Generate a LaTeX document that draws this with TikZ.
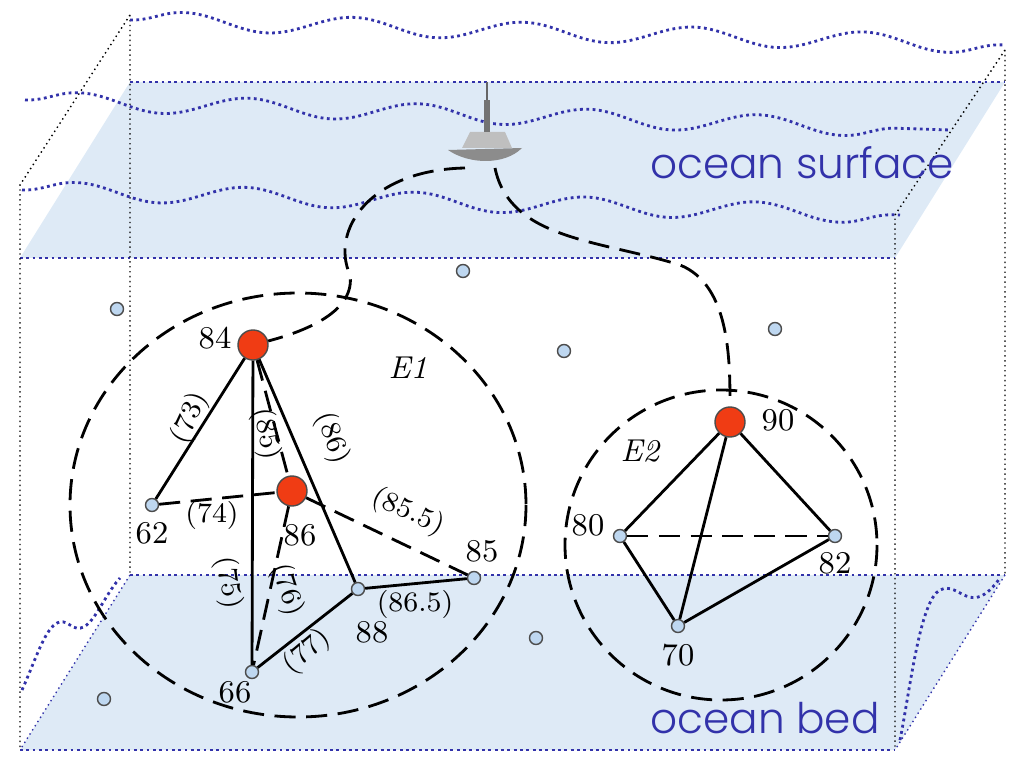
\documentclass[tikz,border=0pt]{standalone}
\usepackage{fontspec}
\newfontfamily\sansf{Poppins Light}
\usetikzlibrary{decorations.pathmorphing}
\definecolor{sea}{RGB}{222,234,246}
\definecolor{wv}{RGB}{50,50,170}
\definecolor{redn}{RGB}{240,60,20}
\definecolor{bluen}{RGB}{190,215,240}
\begin{document}
\begin{tikzpicture}[x=0.01cm,y=-0.01cm,
 big/.style={circle,fill=redn,draw=black!70,minimum size=0.3cm,inner sep=0},
 sm/.style={circle,fill=bluen,draw=black!70,minimum size=0.13cm,inner sep=0},
 lab/.style={font=\small},
 el/.style={font=\footnotesize},
 wave/.style={wv,densely dotted,thick,decorate,decoration={snake,segment length=1.7cm,amplitude=0.09cm}},
 box/.style={black,densely dotted,thin},
 edge/.style={black,thick},
 dedge/.style={black,thick,dash pattern=on 6pt off 3pt}]
\useasboundingbox (0,0) rectangle (1024,773);
% planes
\fill[sea] (130,82) -- (1005,82) -- (895,258) -- (20,258) -- cycle;
\fill[sea] (130,575) -- (1005,575) -- (895,750) -- (20,750) -- cycle;
\draw[wv,densely dotted,thick] (130,82) -- (1005,82) (20,258) -- (895,258);
\draw[wv,densely dotted,thick] (130,575) -- (1005,575) (20,750) -- (895,750);
\draw[wv,densely dotted,thin] (130,575) -- (20,750) (1005,575) -- (895,750);
% box
\draw[box] (130,15) -- (130,575) (130,15) -- (20,185) -- (20,750);
\draw[box] (1005,50) -- (1005,575) (1005,50) -- (895,215) -- (895,750);
% waves
\draw[wave] (130,20) -- (1005,45);
\draw[wave] (25,100) -- (950,130);
\draw[wave] (22,190) -- (900,215);
\draw[wv,densely dotted,thick] (22,690) .. controls (40,650) and (50,610) .. (70,625) .. controls (90,640) and (100,600) .. (120,578);
\draw[wv,densely dotted,thick] (900,740) .. controls (910,690) and (920,600) .. (940,590) .. controls (960,580) and (970,620) .. (1000,578);
% ship
\fill[black!45] (448,150) .. controls (470,165) and (505,165) .. (522,148) -- cycle;
\fill[black!25] (462,148) -- (470,132) -- (505,132) -- (512,148) -- cycle;
\fill[black!55] (484,132) rectangle (490,100);
\draw[black!60] (487,100) -- (487,82);
\coordinate (s1) at (465,168);
\coordinate (s2) at (495,168);
\node[wv,font=\sansf\large] at (802,163) {ocean surface};
\node[wv,font=\sansf\large] at (765,718) {ocean bed};
% circles
\draw[dedge] (298,505) circle [x radius=228, y radius=212];
\draw[dedge] (721,545) circle [x radius=156, y radius=155];
% stray dots
\foreach \p in {(117,309),(463,271),(564,351),(775,329),(536,638),(104,699)} \node[sm] at \p {};
% nodes
\node[big] (n84) at (253,345) {};
\node[big] (n86) at (292,491) {};
\node[big] (n90) at (730,422) {};
\node[sm] (n62) at (152,505) {};
\node[sm] (n66) at (252,672) {};
\node[sm] (n88) at (358,589) {};
\node[sm] (n85) at (474,578) {};
\node[sm] (n80) at (620,536) {};
\node[sm] (n82) at (835,536) {};
\node[sm] (n70) at (678,626) {};
% connectors
\draw[dedge] (s1) .. controls (370,170) and (330,230) .. (350,275) .. controls (355,310) and (310,330) .. (n84);
\draw[dedge] (s2) .. controls (510,240) and (600,240) .. (680,265) .. controls (730,285) and (730,360) .. (n90);
\draw[edge] (n84) -- (n62);
\draw[dedge] (n84) -- (n86);
\draw[edge] (n84) -- (n88);
\draw[edge] (n84) -- (n66);
\draw[dedge] (n62) -- (n86);
\draw[dedge] (n86) -- (n85);
\draw[dedge] (n86) -- (n66);
\draw[edge] (n66) -- (n88);
\draw[edge] (n88) -- (n85);
\draw[edge] (n90) -- (n80);
\draw[edge] (n90) -- (n70);
\draw[edge] (n90) -- (n82);
\draw[dedge] (n80) -- (n82);
\draw[edge] (n80) -- (n70);
\draw[edge] (n70) -- (n82);
% labels
\node[lab] at (215,338) {84};
\node[lab] at (300,535) {86};
\node[lab] at (778,420) {90};
\node[lab] at (152,533) {62};
\node[lab] at (235,692) {66};
\node[lab] at (372,632) {88};
\node[lab] at (482,551) {85};
\node[lab] at (588,525) {80};
\node[lab] at (835,563) {82};
\node[lab] at (678,655) {70};
\node[lab,font=\small\itshape] at (408,368) {E1};
\node[lab,font=\small\itshape] at (640,451) {E2};
\node[el,rotate=65] at (190,418) {(73)};
\node[el,rotate=-80] at (266,434) {(85)};
\node[el,rotate=-70] at (332,438) {(86)};
\node[el] at (212,515) {(74)};
\node[el,rotate=-25] at (408,512) {(85.5)};
\node[el,rotate=-82] at (228,583) {(75)};
\node[el,rotate=-72] at (287,590) {(76)};
\node[el,rotate=40] at (307,652) {(77)};
\node[el] at (415,604) {(86.5)};
\end{tikzpicture}
\end{document}
